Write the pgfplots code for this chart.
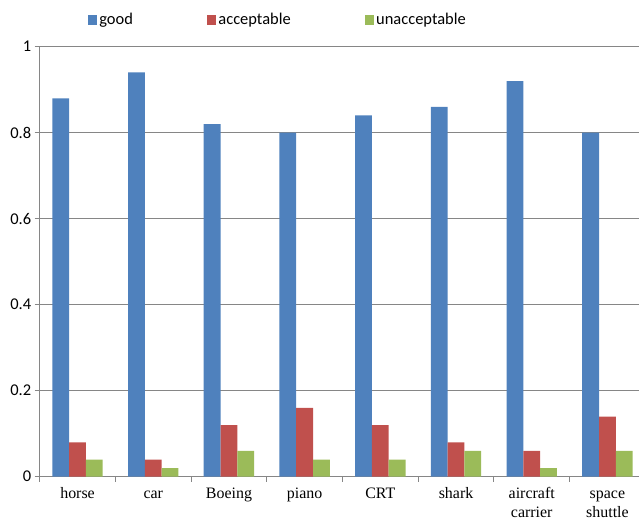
\documentclass[border=0pt]{standalone}
\usepackage{fontspec}
\setmainfont{Liberation Serif}
\newfontfamily\carlito{Carlito}
\usepackage{pgfplots}
\pgfplotsset{compat=1.18}
\definecolor{cgood}{HTML}{4F81BD}
\definecolor{cacc}{HTML}{C0504D}
\definecolor{cun}{HTML}{9BBB59}
\definecolor{cgrid}{HTML}{868686}
\begin{document}
\begin{tikzpicture}
\begin{axis}[
  scale only axis,
  width=599.3bp, height=430bp,
  ybar=0pt, bar width=16.8bp,
  xmin=-0.5, xmax=7.417, ymin=0, ymax=1,
  enlargelimits=false,
  axis x line*=bottom, axis y line*=left,
  axis line style={draw=cgrid, line width=0.8bp, -},
  ytick={0,0.2,0.4,0.6,0.8,1},
  yticklabels={0,0.2,0.4,0.6,0.8,1},
  ymajorgrids, grid style={draw=cgrid, line width=0.8bp},
  tick align=outside,
  major tick length=5bp,
  tick style={draw=cgrid, line width=0.8bp},
  y tick label style={font=\carlito\fontsize{16.5}{19}\selectfont},
  xtick={-0.5,0.5,...,6.5},
  xticklabels={},
  extra x ticks={0,1,2,3,4,5,6,7},
  extra x tick labels={\strut horse,\strut car,\strut Boeing,\strut piano,\strut CRT,\strut shark,{\strut aircraft\\carrier},{\strut space\\shuttle}},
  extra x tick style={major tick length=0pt, grid=none,
    tick label style={font=\fontsize{16}{19}\selectfont, align=center, yshift=-5.5bp}},
  legend columns=3,
  legend style={at={(0.08,1.062)}, anchor=west, draw=none, fill=none,
    inner sep=0pt, font=\carlito\fontsize{16.5}{19}\selectfont,
    /tikz/every odd column/.append style={column sep=0bp},
    /tikz/every even column/.append style={column sep=72bp},
    nodes={inner sep=2bp}},
  legend image code/.code={\fill[#1] (0bp,-5bp) rectangle (9.5bp,5bp);},
]
\addplot[fill=cgood, draw=none] coordinates {(0,0.88) (1,0.94) (2,0.82) (3,0.80) (4,0.84) (5,0.86) (6,0.92) (7,0.80)};
\addplot[fill=cacc, draw=none] coordinates {(0,0.08) (1,0.04) (2,0.12) (3,0.16) (4,0.12) (5,0.08) (6,0.06) (7,0.14)};
\addplot[fill=cun, draw=none] coordinates {(0,0.04) (1,0.02) (2,0.06) (3,0.04) (4,0.04) (5,0.06) (6,0.02) (7,0.06)};
\legend{good,acceptable,unacceptable}
\end{axis}
\pgfresetboundingbox
\useasboundingbox (-39.7bp,-46.3bp) rectangle (599.3bp,476.7bp);
\end{tikzpicture}
\end{document}
